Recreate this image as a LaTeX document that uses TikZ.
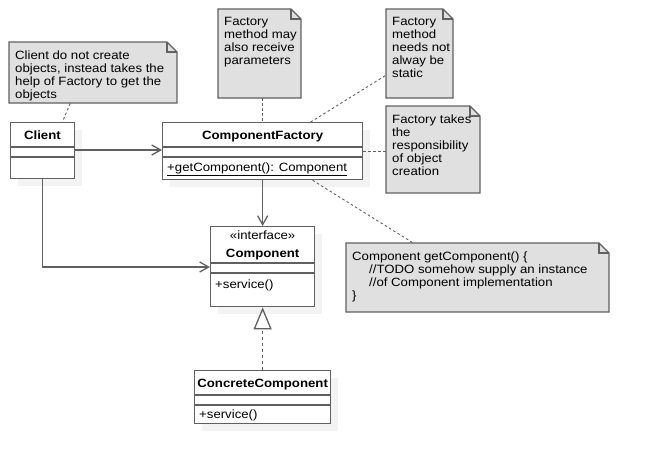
\documentclass[tikz,border=0pt]{standalone}
\usepackage{fontspec}
\setmainfont{Liberation Sans}[FakeStretch=1.1]
\usetikzlibrary{arrows.meta}
\usetikzlibrary{calc}
\definecolor{notegray}{RGB}{224,224,224}
\definecolor{linegray}{RGB}{96,96,96}
\definecolor{shadowgray}{RGB}{243,243,243}
\tikzset{
  classbox/.style={draw=linegray, line width=1.3pt, fill=white, inner sep=0pt, anchor=north west},
  classline/.style={draw=linegray, line width=1.3pt},
  boxshadow/.style={fill=shadowgray, draw=none},
  notebox/.style={draw=linegray, line width=1.3pt, fill=notegray, line join=miter},
  notetext/.style={anchor=north west, inner sep=0pt, align=left, font=\fontsize{12}{13}\selectfont},
  notelink/.style={draw=linegray, line width=0.9pt, dash pattern=on 2.5pt off 2.5pt},
  assoc/.style={draw=linegray, line width=1.3pt, -{Straight Barb[length=9pt,width=10pt]}},
  realize/.style={draw=linegray, line width=1.3pt, dash pattern=on 3pt off 3pt,
    -{Triangle[open,length=22pt,width=18pt,line width=1.3pt]}},
  classtitle/.style={anchor=base, inner sep=0pt, font=\fontsize{12}{13}\selectfont\bfseries},
  stereo/.style={anchor=base, inner sep=0pt, font=\fontsize{12}{13}\selectfont},
  member/.style={anchor=base west, inner sep=0pt, font=\fontsize{12}{13}\selectfont},
}
% note: name, x, y, width, height, text
\newcommand{\umlnote}[6]{%
  \draw[notebox] (#2,#3) -- ++(#4-10,0) -- ++(10,10) -- ++(0,#5-10) -- ++(-#4,0) -- cycle;
  \draw[notebox, fill=none] (#2+#4-10,#3) -- ++(0,10) -- ++(10,0);
  \node[inner sep=0pt, minimum width=#4, minimum height=#5, anchor=north west] (#1) at (#2,#3) {};
  \node[notetext] at (#2+6,#3+8.5) {#6};
}

\begin{document}
\begin{tikzpicture}[x=1pt, y=-1pt]
\useasboundingbox[fill=white] (0,0) rectangle (650,467);

%%%%%%%%%%%%%%%%%%%%%%%%%%%%%%%%%%%%%%%%%%%%%%%%%%%%%%%%%%%%%% notes
\umlnote{clientnote}{9}{42}{168}{61}{Client do not create\\objects, instead takes the\\help of Factory to get the\\objects}
\umlnote{paramnote}{218}{9}{83}{89}{Factory\\method may\\also receive\\parameters}
\umlnote{staticnote}{386}{9}{67}{89}{Factory\\method\\needs not\\alway be\\static}
\umlnote{respnote}{386}{106}{94}{87}{Factory takes\\the\\responsibility\\of object\\creation}
\umlnote{codenote}{346}{243}{263}{69}{\baselineskip=14pt Component getComponent() \{\\
  \hspace*{17pt}//TODO somehow supply an instance\\
  \hspace*{17pt}//of Component implementation\\
  \}}

%%%%%%%%%%%%%%%%%%%%%%%%%%%%%%%%%%%%%%%%%%%%%%%%%%%%%%%%%%%%%% Client
\fill[boxshadow] (17.5,130) rectangle ++(64.5,56);
\node[classbox, minimum width=64.5, minimum height=56] (client) at (9.5,122) {};
\draw[classline] ([yshift=-25pt]client.north west) -- ([yshift=-25pt]client.north east);
\draw[classline] ([yshift=-35pt]client.north west) -- ([yshift=-35pt]client.north east);
\node[classtitle] at ($(client.north)+(0,17)$) {Client};

%%%%%%%%%%%%%%%%%%%%%%%%%%%%%%%%%%%%%%%%%%%%%%%%%%%%%%%%%%%%%% ComponentFactory
\fill[boxshadow] (170,130) rectangle ++(200,57);
\node[classbox, minimum width=200, minimum height=57] (factory) at (162,122) {};
\draw[classline] ([yshift=-25pt]factory.north west) -- ([yshift=-25pt]factory.north east);
\draw[classline] ([yshift=-35pt]factory.north west) -- ([yshift=-35pt]factory.north east);
\node[classtitle] at ($(factory.north)+(0,17)$) {ComponentFactory};
\node[member] at ($(factory.north west)+(5,49)$) {\underline{+getComponent(): Component}};

%%%%%%%%%%%%%%%%%%%%%%%%%%%%%%%%%%%%%%%%%%%%%%%%%%%%%%%%%%%%%% Component
\fill[boxshadow] (218,234) rectangle ++(104,80);
\node[classbox, minimum width=104, minimum height=80] (component) at (210,226) {};
\draw[classline] ([yshift=-37pt]component.north west) -- ([yshift=-37pt]component.north east);
\draw[classline] ([yshift=-47pt]component.north west) -- ([yshift=-47pt]component.north east);
\node[stereo] at ($(component.north)+(0,13)$) {«interface»};
\node[classtitle] at ($(component.north)+(0,31)$) {Component};
\node[member] at ($(component.north west)+(5,62)$) {+service()};

%%%%%%%%%%%%%%%%%%%%%%%%%%%%%%%%%%%%%%%%%%%%%%%%%%%%%%%%%%%%%% ConcreteComponent
\fill[boxshadow] (202,378) rectangle ++(136,53);
\node[classbox, minimum width=136, minimum height=53] (concrete) at (194,370) {};
\draw[classline] ([yshift=-25pt]concrete.north west) -- ([yshift=-25pt]concrete.north east);
\draw[classline] ([yshift=-35pt]concrete.north west) -- ([yshift=-35pt]concrete.north east);
\node[classtitle] at ($(concrete.north)+(0,17)$) {ConcreteComponent};
\node[member] at ($(concrete.north west)+(5,48)$) {+service()};

%%%%%%%%%%%%%%%%%%%%%%%%%%%%%%%%%%%%%%%%%%%%%%%%%%%%%%%%%%%%%% relations
\draw[assoc] ([yshift=-28pt]client.north east) -- ([yshift=-28pt]factory.north west);
\draw[assoc] (client.south) |- ([yshift=-41pt]component.north west);
\draw[assoc] (factory.south -| component.north) -- (component.north);
\draw[realize] (concrete.north -| component.south) -- (component.south);

%%%%%%%%%%%%%%%%%%%%%%%%%%%%%%%%%%%%%%%%%%%%%%%%%%%%%%%%%%%%%% note links
\draw[notelink] ([xshift=-23pt]clientnote.south) -- ([xshift=20pt]client.north);
\draw[notelink] (paramnote.south -| factory.north) -- (factory.north);
\draw[notelink] ([xshift=48pt]factory.north) -- ([yshift=-21.5pt]staticnote.west);
\draw[notelink] (factory.east) -- (factory.east -| respnote.west);
\draw[notelink] ([xshift=50pt]factory.south) -- ([xshift=-64.5pt]codenote.north);

\end{tikzpicture}
\end{document}
